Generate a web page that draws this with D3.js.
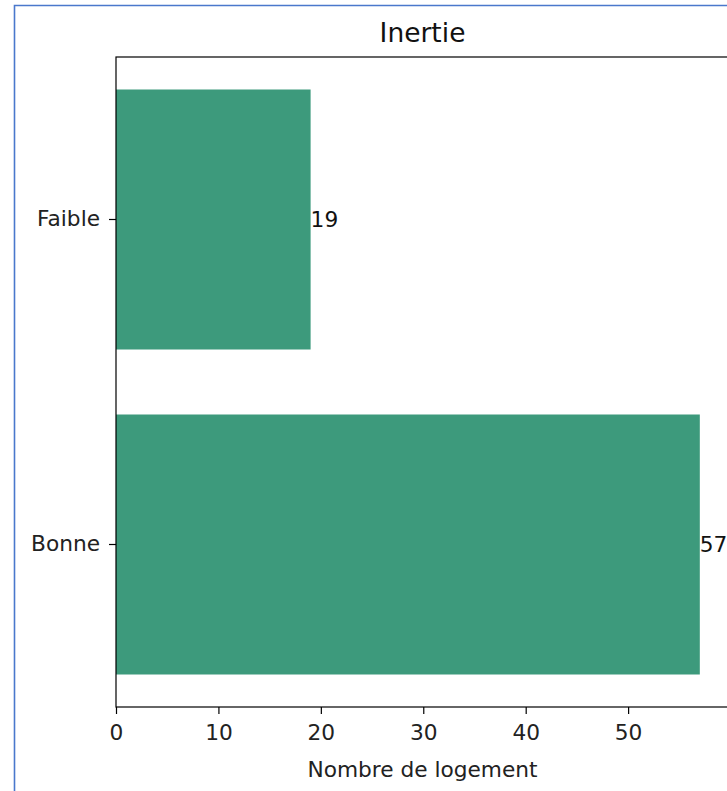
<!DOCTYPE html>
<html>
<head>
<meta charset="utf-8">
<script src="https://cdn.jsdelivr.net/npm/d3@7"></script>
<style>
  html, body { margin: 0; padding: 0; background: #fff; }
  svg { display: block; font-family: "DejaVu Sans", sans-serif; }
</style>
</head>
<body>
<svg id="chart" width="727" height="791"></svg>
<script>
const categories = ["Faible", "Bonne"];
const values = [19, 57];
const xTicks = [0, 10, 20, 30, 40, 50];
const title = "Inertie";
const xLabel = "Nombre de logement";

(function () {
const svg = d3.select("#chart");
const W = 727, H = 791;
const mLeft = 116, mTop = 57, mBottom = 707, mRight = 729;
const color = "#3d9a7c";
const fs = 21.7;

// frame of screenshot
svg.append("path")
  .attr("d", `M14.5,${H} L14.5,5.5 L${W},5.5`)
  .attr("fill", "none").attr("stroke", "#4a78cc").attr("stroke-width", 1.6);

const x = d3.scaleLinear().domain([0, d3.max(values) * 1.05]).range([mLeft, mRight]);
const y = d3.scaleBand().domain(categories).range([mTop, mBottom]).paddingInner(0.2).paddingOuter(0.1);

// bars
svg.append("g").selectAll("rect").data(values).join("rect")
  .attr("x", x(0))
  .attr("y", (d, i) => y(categories[i]))
  .attr("width", d => x(d) - x(0))
  .attr("height", y.bandwidth())
  .attr("fill", color);

// value labels
svg.append("g").selectAll("text").data(values).join("text")
  .attr("x", d => x(d))
  .attr("y", (d, i) => y(categories[i]) + y.bandwidth() / 2)
  .attr("dy", "0.36em")
  .attr("font-size", fs)
  .attr("fill", "#111")
  .text(d => d);

// spines
svg.append("rect")
  .attr("x", mLeft).attr("y", mTop)
  .attr("width", mRight - mLeft).attr("height", mBottom - mTop)
  .attr("fill", "none").attr("stroke", "#000").attr("stroke-width", 1.2);

// x axis
const xAxis = svg.append("g")
  .attr("transform", `translate(0,${mBottom})`)
  .call(d3.axisBottom(x).tickValues(xTicks).tickSize(7).tickPadding(11).tickFormat(d3.format("d")));
xAxis.select(".domain").remove();
xAxis.selectAll("text").attr("font-size", fs).attr("fill", "#222").attr("font-family", "DejaVu Sans, sans-serif");
xAxis.selectAll("line").attr("stroke", "#000").attr("stroke-width", 1.2);

// y axis
const yAxis = svg.append("g")
  .attr("transform", `translate(${mLeft},0)`)
  .call(d3.axisLeft(y).tickSize(7).tickPadding(9));
yAxis.select(".domain").remove();
yAxis.selectAll("text").attr("font-size", fs).attr("fill", "#222").attr("font-family", "DejaVu Sans, sans-serif");
yAxis.selectAll("line").attr("stroke", "#000").attr("stroke-width", 1.2);

// title
svg.append("text")
  .attr("x", (mLeft + mRight) / 2).attr("y", 42.3)
  .attr("text-anchor", "middle")
  .attr("font-size", 26.5)
  .attr("fill", "#111")
  .text(title);

// x label
svg.append("text")
  .attr("x", (mLeft + mRight) / 2).attr("y", 776.5)
  .attr("text-anchor", "middle")
  .attr("font-size", fs)
  .attr("fill", "#222")
  .text(xLabel);
})();
</script>
</body>
</html>
